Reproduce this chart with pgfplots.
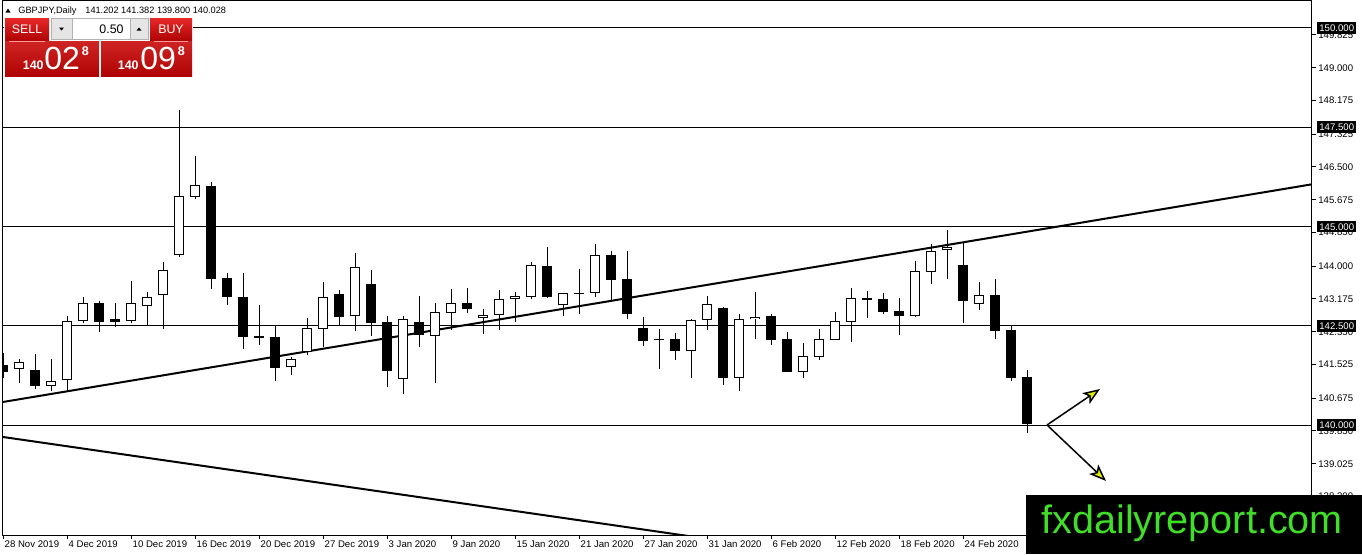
\documentclass[border=0pt]{standalone}
\usepackage{pgfplots}
\pgfplotsset{compat=1.18}
\usepackage{pgfplotstable}
\usepackage{fontspec}
\setmainfont{Liberation Sans}
\usetikzlibrary{arrows.meta}
\definecolor{wmgreen}{RGB}{64,222,40}
\definecolor{arrowyel}{RGB}{222,235,0}
\definecolor{btntop}{RGB}{230,40,40}
\definecolor{btnbot}{RGB}{176,4,4}

\pgfplotstableread{
x o h l c
0 141.512 141.814 141.184 141.335
1 141.403 141.655 141.066 141.579
2 141.386 141.789 140.899 140.991
3 140.983 141.662 140.866 141.109
4 141.126 142.746 140.826 142.612
5 142.612 143.225 142.562 143.066
6 143.073 143.124 142.335 142.602
7 142.670 143.081 142.476 142.602
8 142.612 143.628 142.577 143.066
9 142.990 143.351 142.494 143.217
10 143.267 144.099 142.426 143.897
11 144.275 147.935 144.232 145.761
12 145.735 146.776 145.700 146.037
13 146.021 146.122 143.434 143.686
14 143.703 143.829 143.031 143.232
15 143.225 143.829 141.922 142.225
16 142.242 143.023 142.015 142.199
17 142.216 142.493 141.111 141.445
18 141.455 141.720 141.260 141.662
19 141.847 142.695 141.763 142.436
20 142.426 143.602 141.964 143.217
21 143.300 143.401 142.527 142.728
22 142.738 144.339 142.376 143.971
23 143.552 143.905 142.241 142.577
24 142.594 142.746 140.966 141.367
25 141.165 142.746 140.781 142.662
26 142.594 143.250 141.972 142.259
27 142.249 143.081 141.066 142.846
28 142.829 143.426 142.393 143.066
29 143.066 143.443 142.814 142.930
30 142.703 142.914 142.292 142.763
31 142.763 143.401 142.393 143.174
32 143.167 143.351 142.602 143.242
33 143.232 144.106 143.182 144.030
34 144.005 144.492 143.200 143.232
35 143.015 143.330 142.746 143.317
36 143.305 143.930 142.796 143.330
37 143.317 144.560 143.232 144.275
38 144.283 144.391 143.131 143.653
39 143.678 144.391 142.663 142.804
40 142.436 142.713 141.989 142.124
41 142.140 142.418 141.418 142.130
42 142.166 142.310 141.637 141.871
43 141.871 142.670 141.184 142.644
44 142.637 143.250 142.393 143.040
45 142.947 142.960 141.015 141.191
46 141.191 142.796 140.866 142.670
47 142.663 143.351 142.174 142.728
48 142.746 142.796 142.023 142.149
49 142.166 142.342 141.330 141.342
50 141.342 142.058 141.191 141.738
51 141.720 142.418 141.645 142.166
52 142.149 142.846 142.130 142.619
53 142.602 143.451 142.098 143.192
54 143.192 143.375 142.703 143.157
55 143.167 143.333 142.804 142.854
56 142.871 143.199 142.275 142.753
57 142.753 144.131 142.728 143.879
58 143.846 144.551 143.544 144.375
59 144.400 144.912 143.670 144.491
60 144.030 144.576 142.577 143.131
61 143.040 143.602 142.897 143.267
62 143.275 143.678 142.174 142.375
63 142.393 142.519 141.115 141.191
64 141.202 141.382 139.800 140.028
}\candles

\begin{document}
\begin{tikzpicture}
\begin{scope}[x=0.5pt,y=-0.5pt]
\fill[white] (0,0) rectangle (1362,554);
\end{scope}
\begin{axis}[
  at={(1.5pt,-267.5pt)}, anchor=south west,
  scale only axis, width=654.5pt, height=267.5pt,
  xmin=-0.02, xmax=81.79, ymin=137.229, ymax=150.705,
  axis line style={black, line width=0.5pt},
  xtick={0,4,...,60},
  xticklabels={28 Nov 2019,4 Dec 2019,10 Dec 2019,16 Dec 2019,20 Dec 2019,27 Dec 2019,3 Jan 2020,9 Jan 2020,15 Jan 2020,21 Jan 2020,27 Jan 2020,31 Jan 2020,6 Feb 2020,12 Feb 2020,18 Feb 2020,24 Feb 2020},
  ytick={138.2,139.025,139.85,140.675,141.525,142.35,143.175,144,144.85,145.675,146.5,147.325,148.175,149,149.825},
  yticklabels={138.200,139.025,139.850,140.675,141.525,142.350,143.175,144.000,144.850,145.675,146.500,147.325,148.175,149.000,149.825},
  xtick pos=bottom, ytick pos=right, yticklabel pos=right,
  tick align=outside, major tick length=2pt,
  tick style={black, line width=0.5pt},
  ticklabel style={font=\fontsize{4.8}{5}\selectfont},
  x tick label style={anchor=north west, inner sep=0.5pt},
  y tick label style={anchor=west, inner sep=1pt},
  /pgf/number format/assume math mode=true,
]
% horizontal levels
\addplot[black, line width=0.5pt] coordinates {(-1,150) (90,150)};
\addplot[black, line width=0.5pt] coordinates {(-1,147.5) (90,147.5)};
\addplot[black, line width=0.5pt] coordinates {(-1,145) (90,145)};
\addplot[black, line width=0.5pt] coordinates {(-1,142.5) (90,142.5)};
\addplot[black, line width=0.5pt] coordinates {(-1,140) (90,140)};
% trend lines
\addplot[black, line width=1pt] coordinates {(-0.02,140.580) (81.79,146.063)};
\addplot[black, line width=1pt] coordinates {(-0.02,139.698) (50,136.785)};
% wicks
\addplot[draw=none, mark=none, error bars/.cd, y dir=plus, y explicit, error mark=none,
  error bar style={draw=black, line width=0.5pt, line cap=butt}]
  table[x=x, y=l, y error expr=\thisrow{h}-\thisrow{l}] {\candles};
% bodies (outline / black)
\addplot[draw=none, mark=none, error bars/.cd, y dir=plus, y explicit, error mark=none,
  error bar style={draw=black, line width=5pt, line cap=butt}]
  table[x=x, y expr={min(\thisrow{o},\thisrow{c})}, y error expr={max(abs(\thisrow{c}-\thisrow{o}),0.025)}] {\candles};
% white interiors for rising candles
\addplot[draw=none, mark=none, error bars/.cd, y dir=plus, y explicit, error mark=none,
  error bar style={draw=white, line width=4pt, line cap=butt}]
  table[x=x, y expr={\thisrow{o}+0.0252}, y error expr={max(\thisrow{c}-\thisrow{o}-0.0504,0)}] {\candles};
% arrows
\addplot[black, line width=0.75pt, -{Stealth[length=8.5pt, width=6.5pt, inset=2pt, fill=arrowyel]}] coordinates {(65.23,140.0) (68.54,140.907)};
\addplot[black, line width=0.75pt, -{Stealth[length=8.5pt, width=6.5pt, inset=2pt, fill=arrowyel]}] coordinates {(65.23,140.0) (68.92,138.590)};
\end{axis}
\begin{scope}[x=0.5pt,y=-0.5pt]
% level price boxes
\foreach \yy/\lab in {28/150.000, 127.25/147.500, 226.5/145.000, 325.75/142.500, 425/140.000}{
  \node[fill=black, text=white, anchor=west, inner xsep=1pt, inner ysep=1.2pt, text height=3.5pt, text depth=0pt, font=\fontsize{4.8}{5}\selectfont] at (1317,\yy) {\lab};
}
% title
\fill[black] (5.5,12.5) -- (10.5,12.5) -- (8,8.5) -- cycle;
\node[anchor=base west, inner sep=0, font=\fontsize{4.6}{5}\selectfont] at (18,13.5) {GBPJPY,Daily};
\node[anchor=base west, inner sep=0, font=\fontsize{4.6}{5}\selectfont] at (85,13.5) {141.202 141.382 139.800 140.028};
% trade panel
\fill[white] (4,17) rectangle (193,77);
\shade[top color=btntop, bottom color=btnbot] (5,18) rectangle (49,40.5);
\shade[top color=btntop, bottom color=btnbot] (150,18) rectangle (192,40.5);
\fill[black!10] (51.5,18.5) rectangle (148,39);
\draw[black!30, line width=0.3pt] (51.5,18.5) rectangle (148,39);
\fill[white] (72,19) rectangle (130,38.5);
\draw[black!30, line width=0.3pt] (72,18.5) -- (72,39) (130,18.5) -- (130,39);
\fill[black] (59,27.5) -- (64,27.5) -- (61.5,30.5) -- cycle;
\fill[black] (136.5,30.5) -- (141.5,30.5) -- (139,27.5) -- cycle;
\node[anchor=base east, inner sep=0, font=\fontsize{6.2}{7}\selectfont] at (124,33.5) {0.50};
\node[anchor=base, inner sep=0, text=white, font=\fontsize{6.2}{7}\selectfont] at (27,33.5) {SELL};
\node[anchor=base, inner sep=0, text=white, font=\fontsize{6.2}{7}\selectfont] at (171,33.5) {BUY};
\shade[top color=btntop!90!black, bottom color=btnbot] (5,41) rectangle (99,76);
\shade[top color=btntop!90!black, bottom color=btnbot] (101,41) rectangle (192,76);
\draw[red!40!white, line width=0.3pt] (9,40.8) -- (45,40.8) (154,40.8) -- (188,40.8);
\node[anchor=base west, inner sep=0, text=white, font=\bfseries\fontsize{6.2}{7}\selectfont] at (22.5,69) {140};
\node[anchor=base west, inner sep=0, text=white, font=\fontsize{16}{16}\selectfont] at (44,69) {02};
\node[anchor=north west, inner sep=0, text=white, font=\bfseries\fontsize{6.3}{7}\selectfont] at (81.5,46.5) {8};
\node[anchor=base west, inner sep=0, text=white, font=\bfseries\fontsize{6.2}{7}\selectfont] at (117.5,69) {140};
\node[anchor=base west, inner sep=0, text=white, font=\fontsize{16}{16}\selectfont] at (140,69) {09};
\node[anchor=north west, inner sep=0, text=white, font=\bfseries\fontsize{6.3}{7}\selectfont] at (177.5,46.5) {8};
% watermark
\fill[black] (1026,495) rectangle (1362,554);
\node[anchor=base west, inner sep=0, text=wmgreen, font=\fontsize{19.8}{20}\selectfont] at (1041,533) {fxdailyreport.com};
\pgfresetboundingbox
\path (0,0) rectangle (1362,554);
\end{scope}
\end{tikzpicture}
\end{document}
